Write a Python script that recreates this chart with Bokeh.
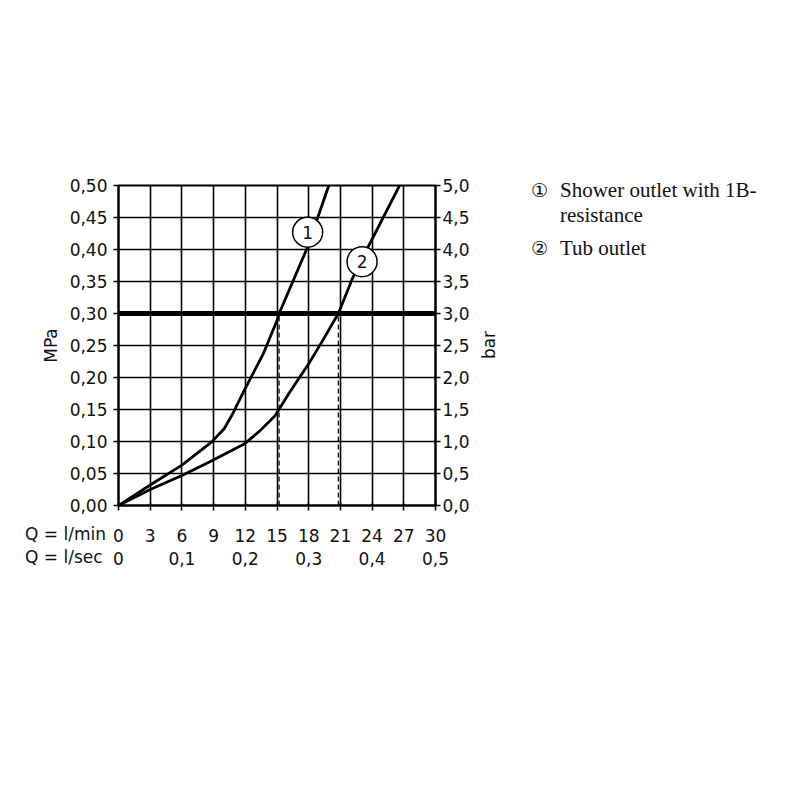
from bokeh.plotting import figure
from bokeh.layouts import row, column
from bokeh.models import (Range1d, LinearAxis, FixedTicker, Span, Div, ColumnDataSource,
                          CustomLabelingPolicy)
from bokeh.embed import file_html
from bokeh.resources import INLINE

# ---- data ----
q1 = [0, 3, 6, 8.8, 10.0, 10.8, 11.9, 13.7, 15.0, 15.2, 16.5, 17.9, 19.9]
p1 = [0, 0.032, 0.063, 0.099, 0.12, 0.143, 0.18, 0.237, 0.289, 0.30, 0.35, 0.404, 0.50]
q2 = [0, 3, 6, 8.6, 11.9, 13.4, 14.8, 16.2, 18.1, 19.4, 20.8, 22.2, 23.5, 26.6]
p2 = [0, 0.025, 0.047, 0.068, 0.096, 0.117, 0.14, 0.177, 0.224, 0.26, 0.30, 0.357, 0.40, 0.50]
rated_pressure = 0.30
q_at_rated = [15.2, 20.8]
marker_q = [17.9, 23.05]
marker_p = [0.427, 0.381]
marker_txt = ["1", "2"]
lmin_ticks = [0, 3, 6, 9, 12, 15, 18, 21, 24, 27, 30]
lsec_ticks = [0, 6, 12, 18, 24, 30]
lsec_labels = ["0", "0,1", "0,2", "0,3", "0,4", "0,5"]
mpa_ticks = [0.0, 0.05, 0.10, 0.15, 0.20, 0.25, 0.30, 0.35, 0.40, 0.45, 0.50]
mpa_labels = ["0,00", "0,05", "0,10", "0,15", "0,20", "0,25", "0,30", "0,35", "0,40", "0,45", "0,50"]
bar_ticks = [0.0, 0.5, 1.0, 1.5, 2.0, 2.5, 3.0, 3.5, 4.0, 4.5, 5.0]
bar_labels = ["0,0", "0,5", "1,0", "1,5", "2,0", "2,5", "3,0", "3,5", "4,0", "4,5", "5,0"]
bar_title = "bar"
q_captions = ["Q = l/min", "Q = l/sec"]
legend_symbols = ["\u2460", "\u2461"]
legend_texts = ["Shower outlet with 1B-<br>resistance", "Tub outlet"]

FONT = "DejaVu Sans"
FS = "17px"
INK = "#111111"

x_range = Range1d(0, 30)

MW, MH = 478, 519
p = figure(width=MW, height=MH, output_backend="svg", toolbar_location=None,
           x_range=x_range, y_range=Range1d(0, 0.5),
           min_border_left=118, min_border_right=MW - 435,
           min_border_top=185, min_border_bottom=MH - 505,
           x_axis_location=None, y_axis_location=None)
p.extra_y_ranges = {"bar": Range1d(0, 5)}
p.outline_line_color = "black"
p.outline_line_width = 2

def style(ax):
    ax.major_label_text_font = FONT
    ax.major_label_text_font_size = FS
    ax.major_label_text_color = INK
    ax.axis_line_color = "black"
    ax.axis_line_width = 2
    ax.major_tick_line_color = "black"
    ax.major_tick_line_width = 1.5
    ax.major_tick_in = 0
    ax.major_tick_out = 5
    ax.minor_tick_line_color = None
    ax.axis_label_text_font = FONT
    ax.axis_label_text_font_size = FS
    ax.axis_label_text_font_style = "normal"
    ax.axis_label_text_color = INK

# left axis MPa
ly = LinearAxis(ticker=FixedTicker(ticks=mpa_ticks), axis_label="MPa")
style(ly)
ly.major_label_overrides = {t: l for t, l in zip(mpa_ticks, mpa_labels)}
ly.major_label_standoff = 6
ly.axis_label_standoff = 6
p.add_layout(ly, "left")

# right axis bar
ry = LinearAxis(y_range_name="bar", ticker=FixedTicker(ticks=bar_ticks))
style(ry)
ry.major_label_overrides = {t: l for t, l in zip(bar_ticks, bar_labels)}
ry.major_label_standoff = 2
p.add_layout(ry, "right")

# bottom tick marks only (the labels are drawn by the scale strip below)
bt = LinearAxis(ticker=FixedTicker(ticks=lmin_ticks))
style(bt)
bt.major_tick_in = 3
bt.major_label_text_font_size = "0px"
bt.major_label_standoff = 0
bt.major_label_policy = CustomLabelingPolicy(code="for (const i of indices) indices.unset(i)")
p.add_layout(bt, "below")

# grid
p.xgrid.ticker = FixedTicker(ticks=lmin_ticks)
p.ygrid.ticker = FixedTicker(ticks=mpa_ticks)
for g in (p.xgrid, p.ygrid):
    g.grid_line_color = "black"
    g.grid_line_width = 1.6
    g.grid_line_alpha = 1.0

# thick rated pressure line
p.add_layout(Span(location=rated_pressure, dimension="width", line_color="black", line_width=5))

# dashed drop lines
p.segment(x0=q_at_rated, y0=[0] * len(q_at_rated), x1=q_at_rated, y1=[rated_pressure] * len(q_at_rated),
          line_color="black", line_width=1.2, line_dash="5 3")

# curves
p.line(q1, p1, line_color="black", line_width=2.8, line_join="round")
p.line(q2, p2, line_color="black", line_width=2.8, line_join="round")

# curve markers
src = ColumnDataSource(dict(x=marker_q, y=marker_p, t=marker_txt))
p.scatter("x", "y", source=src, size=30, marker="circle", fill_color="white",
          line_color="black", line_width=1.5)
p.text("x", "y", text="t", source=src, text_align="center", text_baseline="middle",
       text_font={"value": FONT}, text_font_size=FS, text_color=INK)

# ---- right-hand unit title (reads bottom to top) ----
BW = 510 - MW
bar_html = (f'<div style="position:relative;width:{BW}px;height:{MH}px;">'
            f'<div style="position:absolute;left:11px;top:345px;transform:translate(-50%,-50%) rotate(-90deg);'
            f'font-family:\'DejaVu Sans\';font-size:17px;color:{INK};white-space:nowrap;">{bar_title}</div></div>')
bar_div = Div(text=bar_html, width=BW, height=MH, margin=0)

# ---- legend ----
rows_html = []
for i, (sym, txt) in enumerate(zip(legend_symbols, legend_texts)):
    mt = 0 if i == 0 else 8
    rows_html.append(
        f'<div style="display:flex;margin-top:{mt}px;">'
        f'<div style="width:30px;text-align:left;padding-left:1px;box-sizing:border-box;'
        f'font-family:\'DejaVu Sans\';font-size:19px;">{sym}</div>'
        f'<div>{txt}</div></div>')
leg_html = ('<div style="font-family:\'Liberation Serif\',serif;font-size:21px;line-height:25px;'
            f'color:{INK};padding:178px 0 0 20px;white-space:nowrap;">'
            + "".join(rows_html) + "</div>")
leg = Div(text=leg_html, width=784 - 510, height=MH, margin=0)

# ---- scale strip with the two flow scales ----
SL, SR = 7, 30
SW, SH = SL + 317 + SR, 70
s = figure(width=SW, height=SH, output_backend="svg", toolbar_location=None,
           x_range=x_range, y_range=Range1d(0, 1),
           min_border_left=SL, min_border_right=SR, min_border_top=0, min_border_bottom=SH - 1,
           x_axis_location=None, y_axis_location=None)
s.outline_line_color = None
s.xgrid.visible = False
s.ygrid.visible = False

bx = LinearAxis(ticker=FixedTicker(ticks=lmin_ticks))
style(bx)
bx.axis_line_color = None
bx.major_tick_line_color = None
bx.major_tick_out = 0
bx.major_label_overrides = {t: str(t) for t in lmin_ticks}
bx.major_label_standoff = 8
s.add_layout(bx, "below")

bx2 = LinearAxis(ticker=FixedTicker(ticks=lsec_ticks))
style(bx2)
bx2.axis_line_color = None
bx2.major_tick_line_color = None
bx2.major_tick_out = 0
bx2.major_label_overrides = {t: l for t, l in zip(lsec_ticks, lsec_labels)}
bx2.major_label_standoff = 7
s.add_layout(bx2, "below")

cap_html = ('<div style="font-family:\'DejaVu Sans\';font-size:17px;line-height:23px;'
            f'color:{INK};padding:4px 0 0 25px;white-space:nowrap;">'
            + "<br>".join(q_captions) + "</div>")
cap = Div(text=cap_html, width=118 - SL, height=SH, margin=0)

layout = column(row(p, bar_div, leg, spacing=0), row(cap, s, spacing=0), spacing=0)

open("out.html", "w").write(file_html(layout, INLINE))
